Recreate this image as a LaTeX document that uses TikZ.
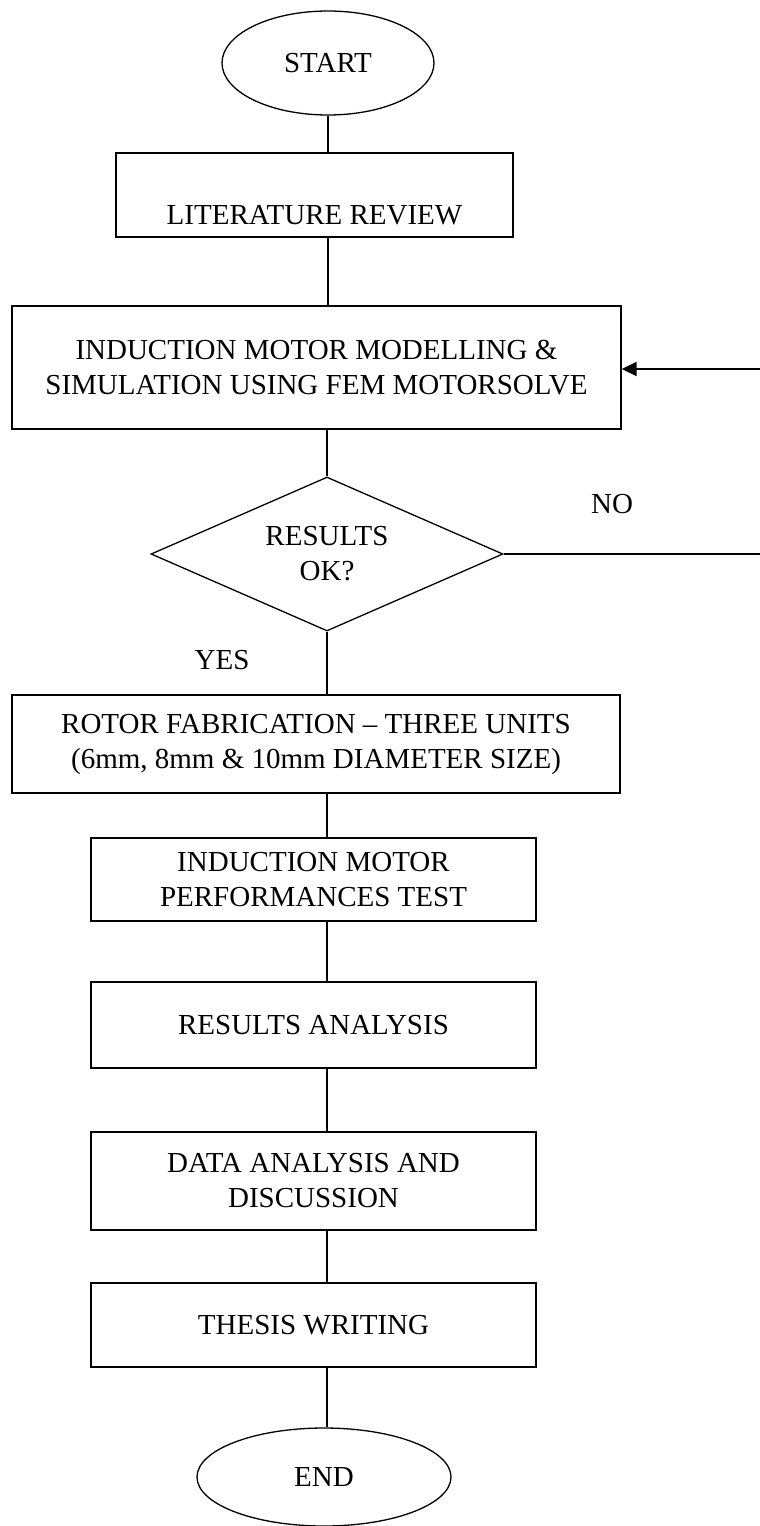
\documentclass[tikz,border=0pt]{standalone}
\usepackage{fontspec}
\setmainfont{Liberation Serif}
\usetikzlibrary{arrows, arrows.meta}
\usetikzlibrary{shapes.geometric}

\begin{document}
\begin{tikzpicture}[x=0.5pt, y=-0.5pt,
    every node/.style={font=\fontsize{14.5}{17.5}\selectfont},
    term/.style={ellipse, draw, line width=0.65pt, inner sep=0pt},
    proc/.style={rectangle, draw, line width=0.7pt, inner sep=0pt, align=center},
    test/.style={diamond, aspect=2.29, draw, line width=0.65pt, inner sep=0pt, align=center},
    flow/.style={line width=0.65pt}]
      \useasboundingbox (0,0) rectangle (760,1526);

      \node[term, minimum width=106pt, minimum height=52pt] (start) at (328,63) {START};
      \node[proc, minimum width=198.5pt, minimum height=42pt] (lit) at (314.5,195) {\strut\\LITERATURE REVIEW};
      \node[proc, minimum width=304.5pt, minimum height=61.5pt] (ind) at (316.5,367.5) {INDUCTION MOTOR MODELLING \&\\SIMULATION USING FEM MOTORSOLVE};
      \node[test, minimum width=176pt, minimum height=77pt] (dia) at (327,554) {RESULTS\\OK?};
      \node[proc, minimum width=304pt, minimum height=49pt] (rotor) at (316,744) {ROTOR FABRICATION -- THREE UNITS\\(6mm, 8mm \& 10mm DIAMETER SIZE)};
      \node[proc, minimum width=222.5pt, minimum height=41.5pt] (perf) at (313.5,879.5) {INDUCTION MOTOR\\PERFORMANCES TEST};
      \node[proc, minimum width=222.5pt, minimum height=43pt] (res) at (313.5,1025) {RESULTS ANALYSIS};
      \node[proc, minimum width=222.5pt, minimum height=49pt] (data) at (313.5,1181) {DATA ANALYSIS AND\\DISCUSSION};
      \node[proc, minimum width=222.5pt, minimum height=42pt] (thesis) at (313.5,1325) {THESIS WRITING};
      \node[term, minimum width=127pt, minimum height=49pt] (end) at (324,1477) {END};

      \node (no) at (612,504) {NO};
      \node (yes) at (222,660) {YES};

      \coordinate (back) at (760,369);
      \coordinate (noend) at (760,554);

      \draw[flow] (start) -- (start |- lit.north);
      \draw[flow] (lit.south -| start) -- (ind.north -| start);
      \draw[flow] (ind.south -| dia) -- (dia.north);
      \draw[flow] (dia.south) -- (dia.south |- rotor.north);
      \draw[flow] (rotor.south -| dia) -- (perf.north -| dia);
      \draw[flow] (perf.south -| dia) -- (res.north -| dia);
      \draw[flow] (res.south -| dia) -- (data.north -| dia);
      \draw[flow] (data.south -| dia) -- (thesis.north -| dia);
      \draw[flow] (thesis.south -| dia) -- (end.north -| dia);
      \draw[flow] (dia.east) -- (noend);
      \draw[-{Triangle[length=7.5pt,width=7pt]}, line width=1pt] (back) -- (back -| ind.east);
\end{tikzpicture}
\end{document}
